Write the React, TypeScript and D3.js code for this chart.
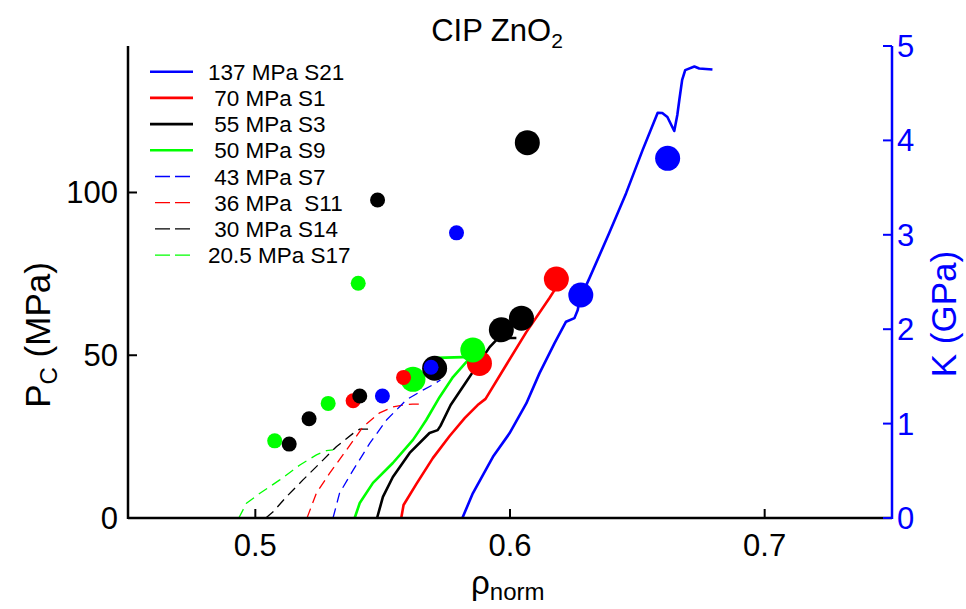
import React from "react";
import * as d3 from "d3";

type Pt = [number, number];

// Pressure curves (rho_norm, P in MPa)
const s21: Pt[] = [[0.5813,0],[0.5854,7.6],[0.5933,18.8],[0.5998,26.0],[0.6064,35.2],[0.6116,44.5],[0.6175,53.7],[0.622,60.3],[0.6253,61.4],[0.6266,63.9],[0.6273,67.0],[0.6312,73.7],[0.639,87.6],[0.6456,99.8],[0.6521,113.1],[0.658,124.5],[0.6598,124.4],[0.6618,123.2],[0.6645,118.9],[0.6657,123.8],[0.6665,128.5],[0.6676,134.6],[0.6688,137.6],[0.6724,138.7],[0.6743,138.1],[0.6795,137.8]];
const s1: Pt[] = [[0.5573,0],[0.5582,4.0],[0.5632,10.4],[0.5697,18.4],[0.5763,25.2],[0.5822,30.7],[0.5873,34.7],[0.5904,36.6],[0.5985,47.0],[0.6064,57.1],[0.6155,67.6],[0.6178,70.4]];
const s3: Pt[] = [[0.5478,0],[0.5501,6.5],[0.554,12.6],[0.5606,20.0],[0.5684,26.1],[0.5716,27.0],[0.5727,28.3],[0.5767,34.7],[0.5825,41.5],[0.5857,45.2],[0.592,52.5],[0.5947,54.7],[0.5971,55.3],[0.6025,55.3]];
const s9: Pt[] = [[0.539,0],[0.541,4.6],[0.5462,10.8],[0.554,16.9],[0.5619,24.0],[0.5645,27.0],[0.5671,30.1],[0.5724,37.2],[0.5776,43.3],[0.5828,47.9],[0.5849,49.5],[0.5712,49.2]];
const s7: Pt[] = [[0.5305,0],[0.5331,7.7],[0.5384,14.7],[0.5449,22.9],[0.5515,30.1],[0.5593,36.3],[0.5658,39.3],[0.5697,40.9],[0.5727,42.4]];
const s11: Pt[] = [[0.5203,0],[0.524,7.7],[0.5292,13.8],[0.5358,20.9],[0.5423,28.0],[0.5488,32.3],[0.554,34.1],[0.558,34.7],[0.5618,35.0],[0.5657,35.0]];
const s14: Pt[] = [[0.5041,0],[0.507,1.9],[0.5122,6.5],[0.5187,11.7],[0.5253,16.8],[0.5318,21.9],[0.5384,26.0],[0.541,27.3],[0.5462,27.3]];
const s17: Pt[] = [[0.4935,0],[0.4965,4.5],[0.5018,7.6],[0.5096,11.7],[0.5175,16.3],[0.524,19.4],[0.5279,20.7],[0.5305,20.9]];

const seriesNames = ["137 MPa S21", " 70 MPa S1", " 55 MPa S3", " 50 MPa S9", " 43 MPa S7", " 36 MPa  S11", " 30 MPa S14", "20.5 MPa S17"];
const seriesData = [s21, s1, s3, s9, s7, s11, s14, s17];
const seriesColors = ["#0000ff", "#ff0000", "#000000", "#00ff00", "#0000ff", "#ff0000", "#000000", "#00ff00"];
const seriesDashed = [false, false, false, false, true, true, true, true];

// Pc points (rho_norm, MPa, size: 1 big / 0 small)
const redPts: [number, number, number][] = [[0.5384,36.0,0],[0.5582,43.2,0],[0.588,47.5,1],[0.6182,73.4,1]];
const greenPts: [number, number, number][] = [[0.5076,23.7,0],[0.5286,35.2,0],[0.5404,72.1,0],[0.5619,42.6,1],[0.5854,51.6,1]];
const blackPts: [number, number, number][] = [[0.5133,22.7,0],[0.5211,30.5,0],[0.541,37.5,0],[0.548,97.7,0],[0.5704,46.0,1],[0.5966,57.8,1],[0.6045,61.4,1],[0.6068,115.3,1]];
const bluePts: [number, number, number][] = [[0.5499,37.5,0],[0.569,46.3,0],[0.579,87.6,0],[0.6278,68.5,1],[0.6619,110.5,1]];

const xTicks = [0.5, 0.6, 0.7];
const yLeftTicks = [0, 50, 100];
const yRightTicks = [0, 1, 2, 3, 4, 5];

export default function App() {
  const W = 966, H = 609;
  const x = d3.scaleLinear().domain([0.45, 0.75]).range([128, 892]);
  const yL = d3.scaleLinear().domain([0, 145]).range([518, 46]);
  const yR = d3.scaleLinear().domain([0, 5]).range([518, 46]);
  const line = d3.line<Pt>().x(d => x(d[0])).y(d => yL(d[1]));
  const font = "'Liberation Sans', Arial, sans-serif";
  const ptGroups = [
    { pts: redPts, c: "#ff0000" },
    { pts: greenPts, c: "#00ff00" },
    { pts: blackPts, c: "#000000" },
    { pts: bluePts, c: "#0000ff" },
  ];
  const drawOrder = [7, 6, 5, 4, 3, 2, 1, 0];
  return (
    <svg width={W} height={H} style={{ position: "absolute", left: 0, top: 0, background: "#fff" }} fontFamily={font}>
      <rect width={W} height={H} fill="#fff" />
      {drawOrder.map(i => (
        <path key={i} d={line(seriesData[i]) || ""} fill="none" stroke={seriesColors[i]}
          strokeWidth={seriesDashed[i] ? 1.3 : 2.6} strokeDasharray={seriesDashed[i] ? "10,6" : undefined}
          strokeLinejoin="round" />
      ))}
      {ptGroups.map((g, gi) => (
        <g key={gi}>
          {g.pts.filter(p => p[2] === 1).map((p, j) => (
            <circle key={"b" + j} cx={x(p[0])} cy={yL(p[1])} r={12.5} fill={g.c} />
          ))}
        </g>
      ))}
      {ptGroups.map((g, gi) => (
        <g key={"s" + gi}>
          {g.pts.filter(p => p[2] === 0).map((p, j) => (
            <circle key={"s" + j} cx={x(p[0])} cy={yL(p[1])} r={7.5} fill={g.c} />
          ))}
        </g>
      ))}
      {/* x axis */}
      <line x1={128} x2={892} y1={518} y2={518} stroke="#000" strokeWidth={2.5} />
      {xTicks.map(t => (
        <g key={t}>
          <line x1={x(t)} x2={x(t)} y1={518} y2={509} stroke="#000" strokeWidth={2} />
          <text x={x(t)} y={556} textAnchor="middle" fontSize={31} fill="#000">{d3.format(".1f")(t)}</text>
        </g>
      ))}
      {/* left axis */}
      <line x1={128} x2={128} y1={46} y2={519} stroke="#000" strokeWidth={2.5} />
      {yLeftTicks.map(t => (
        <g key={t}>
          <line x1={128} x2={137} y1={yL(t)} y2={yL(t)} stroke="#000" strokeWidth={2} />
          <text x={118} y={yL(t) + 11} textAnchor="end" fontSize={31} fill="#000">{t}</text>
        </g>
      ))}
      {/* right axis */}
      <line x1={892} x2={892} y1={46} y2={519} stroke="#0000ff" strokeWidth={2.5} />
      {yRightTicks.map(t => (
        <g key={t}>
          <line x1={892} x2={883} y1={yR(t)} y2={yR(t)} stroke="#0000ff" strokeWidth={2} />
          <text x={897} y={yR(t) + 11} textAnchor="start" fontSize={31} fill="#0000ff">{t}</text>
        </g>
      ))}
      {/* labels */}
      <text x={497} y={41} textAnchor="middle" fontSize={31} fill="#000">CIP ZnO<tspan fontSize={21} dy={7}>2</tspan></text>
      <text x={471} y={594} fontSize={33} fill="#000">ρ<tspan fontSize={24} dy={6}>norm</tspan></text>
      <text transform="translate(50,335) rotate(-90)" textAnchor="middle" fontSize={35} fill="#000">P<tspan fontSize={24} dy={7}>C</tspan><tspan dy={-7}> (MPa)</tspan></text>
      <text transform="translate(956,314) rotate(-90)" textAnchor="middle" fontSize={35} fill="#0000ff">K (GPa)</text>
      {/* legend */}
      {seriesNames.map((n, i) => {
        const yy = 71.7 + i * 26.2;
        return (
          <g key={n}>
            {seriesDashed[i] ? (
              <line x1={155} x2={190} y1={yy} y2={yy} stroke={seriesColors[i]} strokeWidth={1.3} strokeDasharray="15,5" />
            ) : (
              <line x1={150} x2={193} y1={yy} y2={yy} stroke={seriesColors[i]} strokeWidth={2.6} />
            )}
            <text x={208} y={yy + 8} fontSize={22.5} fill="#000" style={{ whiteSpace: "pre" }}>{n}</text>
          </g>
        );
      })}
    </svg>
  );
}
